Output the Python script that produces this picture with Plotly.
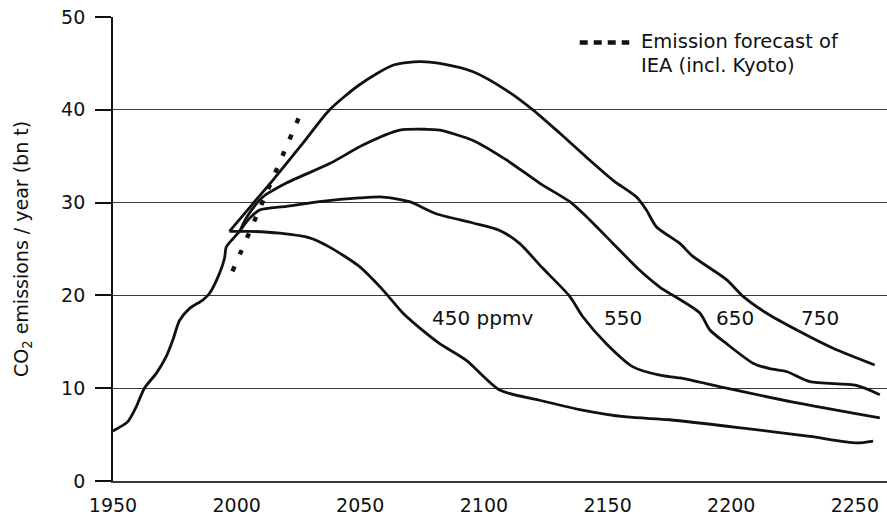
import plotly.graph_objects as go

# ---- data (years, CO2 emissions in bn t) ----
hist_years = [1950, 1956.0, 1959.4, 1962.7, 1967.5, 1971.5, 1974.2, 1976.9, 1981.0,
              1986.3, 1989.0, 1993.1, 1995.1, 1995.8, 1998.5, 2001.2]
hist_vals = [5.4, 6.4, 8.0, 10.0, 11.6, 13.4, 15.2, 17.3, 18.6,
             19.5, 20.2, 22.4, 24.0, 25.2, 26.1, 26.9]

s750_years = [1997.1, 2006.6, 2014.6, 2026.8, 2037.6, 2049.7, 2063.2, 2074.0, 2082.1,
              2095.6, 2109.1, 2119.8, 2130.6, 2141.4, 2152.2, 2161.7, 2165.7, 2169.7,
              2179.2, 2184.5, 2198.1, 2204.8, 2214.2, 2227.7, 2241.2, 2258.0]
s750_vals = [26.9, 29.9, 32.4, 36.4, 40.0, 42.7, 44.8, 45.2, 45.0,
             44.1, 42.1, 40.0, 37.5, 34.9, 32.4, 30.6, 29.2, 27.4,
             25.6, 24.2, 21.7, 19.9, 18.1, 16.1, 14.3, 12.5]

s650_years = [2001.2, 2004.5, 2010.6, 2020.1, 2037.6, 2051.1, 2065.9, 2076.7, 2082.1,
              2095.6, 2109.1, 2122.5, 2134.7, 2141.4, 2152.2, 2163.0, 2171.1, 2187.3,
              2191.3, 2198.1, 2208.8, 2215.6, 2222.3, 2231.8, 2250.6, 2260.1]
s650_vals = [26.9, 28.6, 30.6, 32.1, 34.2, 36.2, 37.8, 37.9, 37.8,
             36.7, 34.6, 32.1, 30.1, 28.5, 25.6, 22.7, 20.9, 18.1,
             16.3, 14.8, 12.7, 12.1, 11.8, 10.7, 10.3, 9.3]

s550_years = [2001.2, 2005.2, 2009.3, 2020.1, 2033.5, 2049.7, 2059.1, 2069.9, 2080.7,
              2095.6, 2106.4, 2114.4, 2123.5, 2134.7, 2140.0, 2149.5, 2160.3, 2171.1,
              2179.2, 2198.1, 2225.0, 2260.1]
s550_vals = [26.9, 28.3, 29.2, 29.6, 30.1, 30.5, 30.6, 30.1, 28.8,
             27.8, 27.0, 25.6, 23.0, 19.9, 17.7, 14.8, 12.3, 11.4,
             11.1, 10.0, 8.5, 6.8]

s450_years = [1997.1, 2005.2, 2017.4, 2029.5, 2037.6, 2049.7, 2059.1, 2067.2, 2076.7,
              2082.1, 2092.9, 2106.4, 2122.5, 2138.7, 2157.6, 2175.1, 2204.8, 2231.8,
              2250.6, 2257.4]
s450_vals = [26.9, 26.9, 26.7, 26.2, 25.2, 23.1, 20.6, 18.1, 15.9,
             14.8, 13.0, 9.8, 8.7, 7.7, 6.9, 6.6, 5.7, 4.8,
             4.1, 4.3]

iea_years = [1998.3, 2012.0, 2027.0]
iea_vals = [22.6, 31.0, 40.3]

curve_labels = ["450 ppmv", "550", "650", "750"]
label_years = [2099.5, 2156.1, 2201.4, 2235.8]
label_vals = [17.55, 17.55, 17.55, 17.55]

y_ticks = [0, 10, 20, 30, 40, 50]
x_ticks = [1950, 2000, 2050, 2100, 2150, 2200, 2250]

FONT = "DejaVu Sans"
INK = "#111111"
GRID = "#3a3a3a"

fig = go.Figure()

for xs, ys in [(hist_years, hist_vals), (s750_years, s750_vals), (s650_years, s650_vals),
               (s550_years, s550_vals), (s450_years, s450_vals)]:
    fig.add_trace(go.Scatter(x=xs, y=ys, mode="lines",
                             line=dict(color=INK, width=2.8, shape="spline", smoothing=0.7),
                             showlegend=False, hoverinfo="skip"))

fig.add_trace(go.Scatter(x=iea_years, y=iea_vals, mode="lines",
                         line=dict(color=INK, width=4.4, dash="5px,13px", shape="spline"),
                         showlegend=False, hoverinfo="skip"))

for t, xv, yv in zip(curve_labels, label_years, label_vals):
    fig.add_annotation(x=xv, y=yv, text=t, showarrow=False, xref="x", yref="y",
                       font=dict(family=FONT, size=20, color=INK))

# legend (manual)
fig.add_shape(type="line", xref="paper", yref="paper", x0=0.603, x1=0.667, y0=0.945, y1=0.945,
              line=dict(color=INK, width=4.4, dash="8px,6px"))
fig.add_annotation(xref="paper", yref="paper", x=0.680, y=0.947, xanchor="left", yanchor="middle",
                   text="Emission forecast of", showarrow=False,
                   font=dict(family=FONT, size=19.5, color=INK))
fig.add_annotation(xref="paper", yref="paper", x=0.680, y=0.896, xanchor="left", yanchor="middle",
                   text="IEA (incl. Kyoto)", showarrow=False,
                   font=dict(family=FONT, size=19.5, color=INK))

fig.update_xaxes(range=[1950, 2263], tickvals=x_ticks, ticktext=[str(v) for v in x_ticks],
                 showgrid=False, zeroline=False, showline=True, linecolor=GRID, linewidth=1.6,
                 ticks="", ticklabelstandoff=6, automargin=False,
                 tickfont=dict(family=FONT, size=19, color=INK))
fig.update_yaxes(range=[0, 50], tickvals=y_ticks, ticktext=[str(v) for v in y_ticks],
                 showgrid=True, gridcolor=GRID, gridwidth=1.4, zeroline=False,
                 showline=True, linecolor=INK, linewidth=1.8,
                 ticks="outside", ticklen=16, tickwidth=1.6, tickcolor=INK,
                 ticklabelstandoff=6, automargin=False,
                 tickfont=dict(family=FONT, size=19, color=INK),
                 title=dict(text="CO<sub>2</sub> emissions / year (bn t)", standoff=27,
                            font=dict(family=FONT, size=19, color=INK)))

fig.update_layout(width=887, height=515, margin=dict(l=113, r=0, t=17, b=34),
                  plot_bgcolor="white", paper_bgcolor="white", showlegend=False)

fig.write_html("out.html", config={"displayModeBar": False},
               post_script="document.body.style.margin='0px';document.body.style.overflow='hidden';")
